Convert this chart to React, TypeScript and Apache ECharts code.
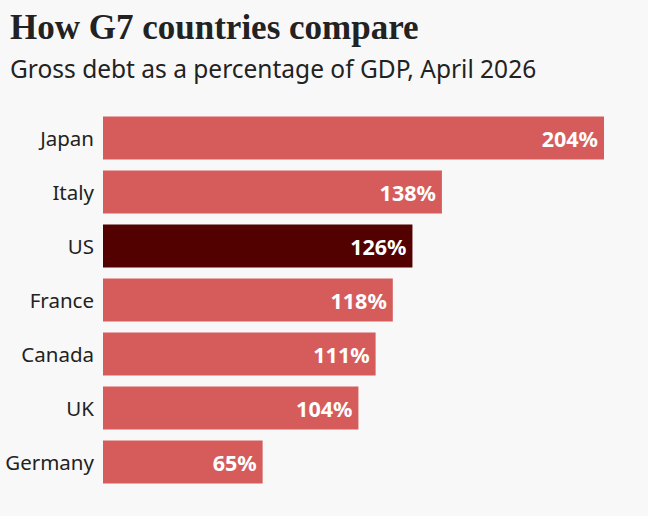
import React, { useEffect, useRef } from "react";
import * as echarts from "echarts";

const countries = ["Japan", "Italy", "US", "France", "Canada", "UK", "Germany"];
const debtPct = [204, 138, 126, 118, 111, 104, 65];
const highlight = "US";

const titleText = "How G7 countries compare";
const subtitleText = "Gross debt as a percentage of GDP, April 2026";

export default function App() {
  const ref = useRef<HTMLDivElement>(null);
  useEffect(() => {
    document.body.style.margin = "0";
    document.body.style.background = "#f8f8f8";
    const chart = echarts.init(ref.current!, null, { renderer: "svg" });
    chart.setOption({
      animation: false,
      backgroundColor: "#f8f8f8",
      title: [
        {
          text: titleText,
          left: 5,
          top: 5,
          textStyle: {
            fontFamily: "Liberation Serif",
            fontWeight: "bold",
            fontSize: 35,
            color: "#222222",
          },
        },
        {
          text: subtitleText,
          left: 5,
          top: 51,
          textStyle: {
            fontFamily: "Noto Sans",
            fontWeight: "normal",
            fontSize: 24.5,
            color: "#222222",
          },
        },
      ],
      grid: { left: 103, right: 44, top: 111, bottom: 27 },
      xAxis: {
        type: "value",
        min: 0,
        max: 204,
        show: false,
      },
      yAxis: {
        type: "category",
        data: countries,
        inverse: true,
        axisLine: { show: false },
        axisTick: { show: false },
        splitLine: { show: false },
        axisLabel: {
          fontFamily: "Noto Sans",
          fontSize: 20.5,
          color: "#222222",
          margin: 9,
        },
      },
      series: [
        {
          type: "bar",
          data: debtPct.map((v, i) => ({
            value: v,
            itemStyle: { color: countries[i] === highlight ? "#520000" : "#d65c5c" },
          })),
          barWidth: 43,
          label: {
            show: true,
            position: "insideRight",
            distance: 6,
            formatter: "{c}%",
            fontFamily: "Noto Sans",
            fontWeight: "bold",
            fontSize: 21.5,
            color: "#ffffff",
          },
        },
      ],
    });
    return () => chart.dispose();
  }, []);
  return <div ref={ref} style={{ width: 648, height: 516 }} />;
}
